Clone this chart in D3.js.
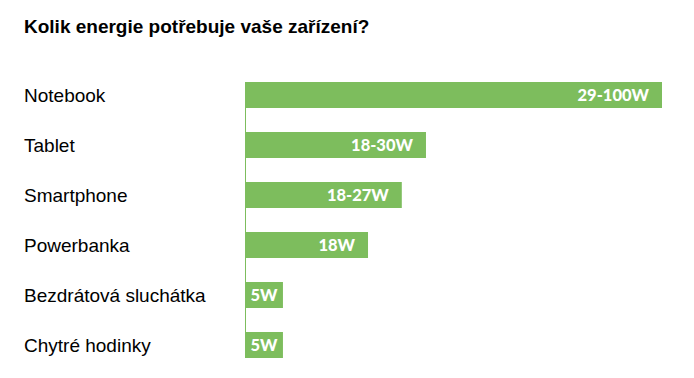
<!DOCTYPE html>
<html>
<head>
<meta charset="utf-8">
<script src="https://cdn.jsdelivr.net/npm/d3@7"></script>
<style>
  html, body { margin: 0; padding: 0; background: #fff; }
  svg { display: block; }
</style>
</head>
<body>
<svg id="chart" width="694" height="378"></svg>
<script>
// Kolik energie potřebuje vaše zařízení? — horizontal bars with power labels

const TITLE = 'Kolik energie potřebuje vaše zařízení?';

const devices   = ['Notebook', 'Tablet', 'Smartphone', 'Powerbanka', 'Bezdrátová sluchátka', 'Chytré hodinky'];
const powerText = ['29-100W', '18-30W', '18-27W', '18W', '5W', '5W'];
// bar lengths as drawn in the picture (relative, notebook = 100)
const barValue  = [100, 43.4, 37.6, 29.5, 9.1, 9.1];

const GREEN = '#7dbd5d';

const svg = d3.select('#chart');
const W = 694, H = 378;
const margin = { top: 70, right: 32, bottom: 20, left: 245 };

const data = devices.map((d, i) => ({ name: d, label: powerText[i], value: barValue[i] }));

const x = d3.scaleLinear()
  .domain([0, 100])
  .range([margin.left, W - margin.right]);

const y = d3.scaleBand()
  .domain(devices)
  .range([margin.top, margin.top + devices.length * 50])
  .paddingInner(0.48)
  .paddingOuter(0.24);

// title
svg.append('text')
  .attr('x', 24)
  .attr('y', 33)
  .attr('font-family', '"Liberation Sans", Arial, sans-serif')
  .attr('font-weight', 'bold')
  .attr('font-size', 19)
  .attr('fill', '#000')
  .text(TITLE);

// vertical axis line
svg.append('line')
  .attr('x1', x(0) + 0.5).attr('x2', x(0) + 0.5)
  .attr('y1', y(devices[0]))
  .attr('y2', y(devices[devices.length - 1]) + y.bandwidth())
  .attr('stroke', GREEN)
  .attr('stroke-width', 1);

// category labels
svg.append('g')
  .selectAll('text')
  .data(data)
  .join('text')
  .attr('x', 24)
  .attr('y', d => y(d.name) + y.bandwidth() / 2)
  .attr('dy', '0.35em')
  .attr('font-family', '"Liberation Sans", Arial, sans-serif')
  .attr('font-size', 19)
  .attr('fill', '#000')
  .text(d => d.name);

// bars
svg.append('g')
  .selectAll('rect')
  .data(data)
  .join('rect')
  .attr('x', x(0))
  .attr('y', d => y(d.name))
  .attr('width', d => x(d.value) - x(0))
  .attr('height', y.bandwidth())
  .attr('fill', GREEN);

// value labels inside bars
svg.append('g')
  .selectAll('text')
  .data(data)
  .join('text')
  .attr('x', d => {
    const w = x(d.value) - x(0);
    return w < 60 ? x(0) + w / 2 : x(d.value) - 13;
  })
  .attr('text-anchor', d => (x(d.value) - x(0) < 60 ? 'middle' : 'end'))
  .attr('y', d => y(d.name) + y.bandwidth() / 2)
  .attr('dy', '0.36em')
  .attr('font-family', 'Lato, "Open Sans", sans-serif')
  .attr('font-weight', 900)
  .attr('font-size', 16.5)
  .attr('fill', '#fff')
  .text(d => d.label);
</script>
</body>
</html>
